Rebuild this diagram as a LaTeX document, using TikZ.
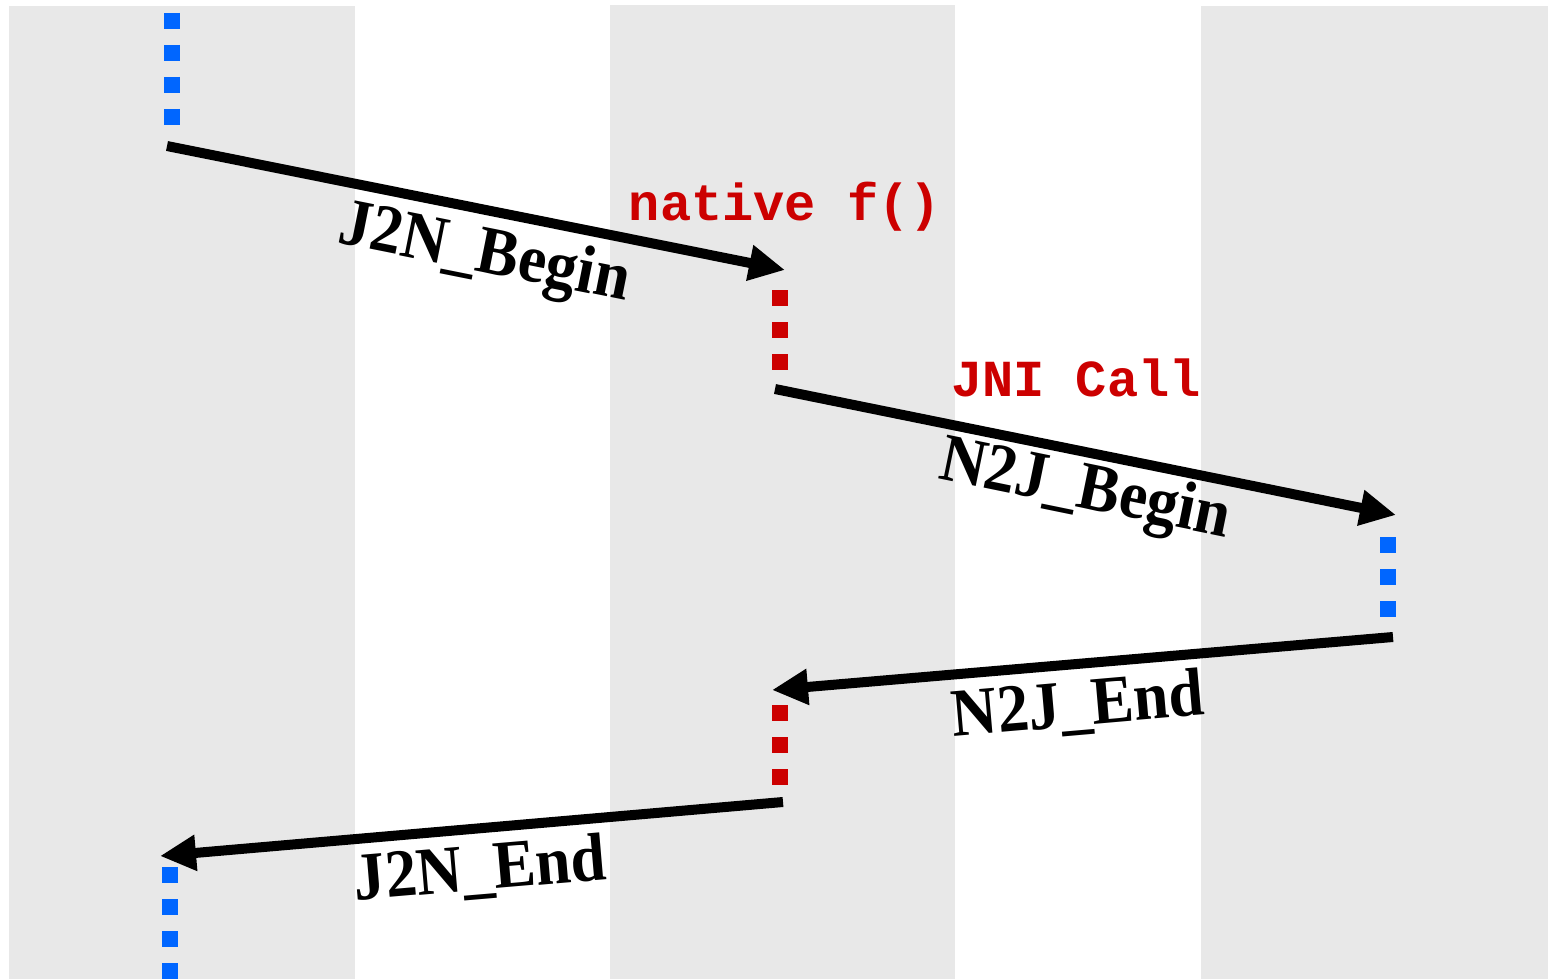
\documentclass[tikz,border=0pt]{standalone}
\usepackage{fontspec}
\newfontfamily\lblfont{Liberation Serif}
\newfontfamily\codefont{Liberation Mono}
\usetikzlibrary{arrows.meta}
\definecolor{bandgray}{HTML}{E8E8E8}
\definecolor{javablue}{HTML}{0066FF}
\definecolor{nativered}{HTML}{CC0000}
\newcommand{\steptext}[1]{\scalebox{0.93}[1]{#1}}
\tikzset{
  band/.style={fill=bandgray, draw=none},
  javaline/.style={draw=javablue, line width=16pt, dash pattern=on 16pt off 16pt},
  nativeline/.style={draw=nativered, line width=16pt, dash pattern=on 16pt off 16pt},
  callarrow/.style={draw=black, line width=10pt, -{Triangle[length=36pt,width=34pt]}},
  steplabel/.style={inner sep=0pt, font=\lblfont\bfseries\fontsize{68}{68}\selectfont},
  codelabel/.style={inner sep=0pt, text=nativered, font=\codefont\bfseries\fontsize{52}{52}\selectfont}
}
\begin{document}
\begin{tikzpicture}[x=1pt,y=-1pt]
\useasboundingbox (0,0) rectangle (1548,979);
% bands
\fill[band] (9,6) rectangle (355,979);
\fill[band] (610,5) rectangle (955,979);
\fill[band] (1201,6) rectangle (1548,979);
% lifeline segments
\coordinate (jtopA) at (172,13);
\coordinate (jtopB) at (172,125);
\coordinate (n1A) at (780,290);
\coordinate (n1B) at (780,370);
\coordinate (j2A) at (1388,537);
\coordinate (j2B) at (1388,617);
\coordinate (n2A) at (780,705);
\coordinate (n2B) at (780,785);
\coordinate (jbotA) at (170,867);
\coordinate (jbotB) at (170,985);
\draw[javaline] (jtopA) -- (jtopB);
\draw[nativeline] (n1A) -- (n1B);
\draw[javaline] (j2A) -- (j2B);
\draw[nativeline] (n2A) -- (n2B);
\draw[javaline] (jbotA) -- (jbotB);
% arrow endpoints
\coordinate (a1s) at (167,146);
\coordinate (a1e) at (785,270);
\coordinate (a2s) at (775,389);
\coordinate (a2e) at (1396,515);
\coordinate (a3s) at (1393,637);
\coordinate (a3e) at (772,690);
\coordinate (a4s) at (783,802);
\coordinate (a4e) at (160,856);
\draw[callarrow] (a1s) -- (a1e);
\draw[callarrow] (a2s) -- (a2e);
\draw[callarrow] (a3s) -- (a3e);
\draw[callarrow] (a4s) -- (a4e);
% labels
\node[steplabel, rotate=-11.35] (l1) at (484,256) {\steptext{J2N\_Begin}};
\node[steplabel, rotate=-11.6] (l2) at (1085,492) {\steptext{N2J\_Begin}};
\node[steplabel, rotate=4.97] (l3) at (1078,707) {\steptext{N2J\_End}};
\node[steplabel, rotate=4.87] (l4) at (480,871) {\steptext{J2N\_End}};
\node[codelabel] (c1) at (785,207) {native f()};
\node[codelabel] (c2) at (1076,378) {JNI Call};
\end{tikzpicture}
\end{document}
